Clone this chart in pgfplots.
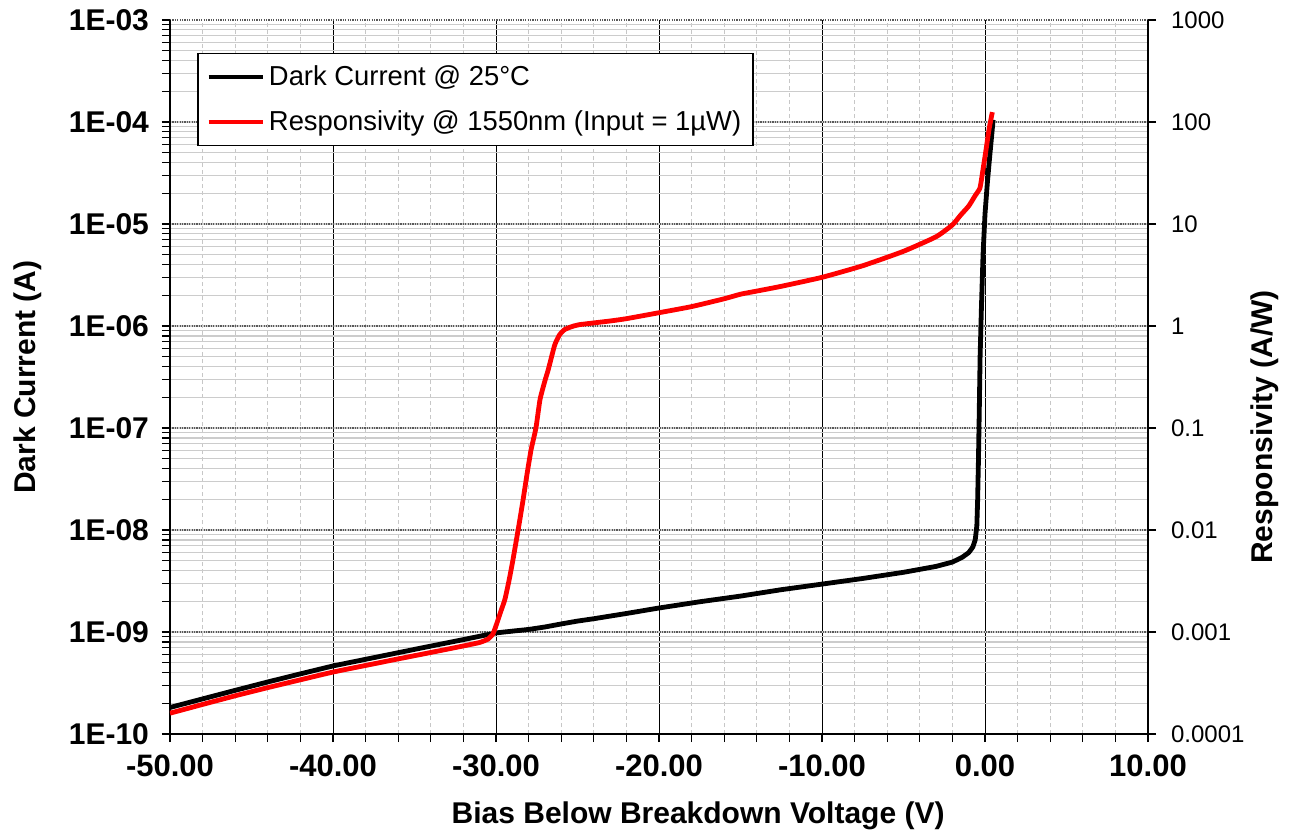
\documentclass[border=0pt]{standalone}
\usepackage{pgfplots}
\pgfplotsset{compat=1.18}
\usepackage{fontspec}
\setmainfont{Liberation Sans}

\pgfplotstableread{
V I
-50 1.82e-10
-48 2.21e-10
-46 2.68e-10
-44 3.24e-10
-42 3.89e-10
-40 4.65e-10
-38 5.40e-10
-36 6.27e-10
-34 7.28e-10
-32 8.43e-10
-30 9.8e-10
-29 1.02e-9
-28 1.06e-9
-27 1.12e-9
-26 1.2e-9
-25 1.28e-9
-24 1.35e-9
-22 1.52e-9
-20 1.72e-9
-17.5 1.98e-9
-15 2.25e-9
-12.5 2.6e-9
-10 2.95e-9
-7.5 3.35e-9
-5 3.85e-9
-3 4.4e-9
-2 4.85e-9
-1.4 5.4e-9
-1.0 6.0e-9
-0.75 6.8e-9
-0.6 8.0e-9
-0.5 1.1e-8
-0.45 2e-8
-0.4 5e-8
-0.35 1.5e-7
-0.3 5e-7
-0.22 1.5e-6
-0.12 5e-6
0.0 1.25e-5
0.15 2.6e-5
0.3 4.8e-5
0.5 1.05e-4
}\darkcurrent

\pgfplotstableread{
V R
-50 1.6e-4
-48 1.95e-4
-46 2.37e-4
-44 2.85e-4
-42 3.4e-4
-40 4.05e-4
-38 4.7e-4
-36 5.45e-4
-34 6.3e-4
-32 7.3e-4
-31 7.9e-4
-30.5 8.5e-4
-30.2 9.5e-4
-30.0 1.15e-3
-29.7 1.6e-3
-29.45 2.1e-3
-29.2 3.2e-3
-28.96 5.1e-3
-28.6 1.1e-2
-28.34 1.97e-2
-28.1 3.5e-2
-27.85 6.1e-2
-27.55 0.1
-27.3 0.19
-27.0 0.29
-26.8 0.37
-26.4 0.65
-26.1 0.82
-25.8 0.92
-25.4 0.98
-24.9 1.03
-23 1.12
-22 1.18
-20 1.35
-18 1.55
-16 1.85
-15 2.05
-14 2.2
-12.5 2.45
-10 3.0
-7.5 3.9
-5 5.4
-3 7.5
-2 9.8
-1.5 12.2
-1.0 15
-0.6 19
-0.31 22.5
-0.15 32
0.06 53
0.25 85
0.45 125
}\responsivity

\begin{document}
\begin{tikzpicture}
\useasboundingbox (-85pt,-51pt) rectangle (562pt,367pt);
\begin{axis}[
  at={(0pt,0pt)}, anchor=south west,
  scale only axis, width=489pt, height=357pt,
  xmin=-50, xmax=10,
  ymode=log, ymin=1e-10, ymax=1e-3,
  axis x line*=bottom, axis y line*=left,
  axis line style={-, black, line width=0.6pt},
  xtick={-50,-40,-30,-20,-10,0,10},
  xticklabels={-50.00,-40.00,-30.00,-20.00,-10.00,0.00,10.00},
  minor x tick num=4,
  ytick={1e-10,1e-9,1e-8,1e-7,1e-6,1e-5,1e-4,1e-3},
  yticklabels={1E-10,1E-09,1E-08,1E-07,1E-06,1E-05,1E-04,1E-03},
  tick align=outside,
  major tick length=4pt, minor tick length=4pt,
  tick style={black, line width=0.6pt},
  xticklabel style={font=\bfseries\fontsize{15.5}{17}\selectfont, yshift=-3pt},
  yticklabel style={font=\bfseries\fontsize{15}{17}\selectfont, xshift=-3pt},
  grid=both,
  major x grid style={black, line width=0.5pt},
  minor x grid style={black!22, line width=0.5pt, dash pattern=on 2pt off 1.5pt},
  major y grid style={black!65, line width=0.6pt, dash pattern=on 0.6pt off 0.6pt},
  minor y grid style={black!20, line width=0.6pt},
  xlabel={Bias Below Breakdown Voltage (V)},
  ylabel={Dark Current (A)},
  label style={font=\bfseries\fontsize{15}{17}\selectfont},
  xlabel style={at={(axis description cs:0.54,0)}, anchor=center, yshift=-41pt},
  ylabel style={at={(axis description cs:0,0.5)}, anchor=center, xshift=0pt, yshift=71pt},
  legend style={at={(axis description cs:0.028,0.954)}, anchor=north west,
    draw=black, line width=0.8pt, font=\fontsize{13.7}{16}\selectfont,
    inner xsep=4pt, inner ysep=4pt, row sep=7pt, text depth=1pt},
  legend cell align=left,
  legend image code/.code={\draw[#1, line width=2.4pt] (0pt,0pt) -- (27pt,0pt);},
]
\addplot[black, line width=2.4pt, line join=round] table[x=V, y=I] {\darkcurrent};
\addlegendentry{Dark Current @ 25°C}
\addlegendimage{red, line width=2.4pt}
\addlegendentry{Responsivity @ 1550nm (Input = 1µW)}
\end{axis}
\begin{axis}[
  at={(0pt,0pt)}, anchor=south west,
  scale only axis, width=489pt, height=357pt,
  xmin=-50, xmax=10,
  ymode=log, ymin=1e-4, ymax=1e3,
  axis x line=none, axis y line*=right,
  axis line style={-, black, line width=0.6pt},
  ytick={1e-4,1e-3,1e-2,1e-1,1,10,100,1000},
  yticklabels={0.0001,0.001,0.01,0.1,1,10,100,1000},
  yminorticks=false,
  tick align=outside, major tick length=4pt,
  tick style={black, line width=0.6pt},
  yticklabel style={font=\fontsize{12}{14}\selectfont, xshift=4pt},
  ylabel={Responsivity (A/W)},
  ylabel style={font=\bfseries\fontsize{15}{17}\selectfont, at={(axis description cs:1,0.43)}, anchor=center, rotate=0, yshift=-58.5pt},
]
\addplot[red, line width=2.4pt, line join=round, smooth, tension=0.3] table[x=V, y=R] {\responsivity};
\end{axis}
\end{tikzpicture}
\end{document}
